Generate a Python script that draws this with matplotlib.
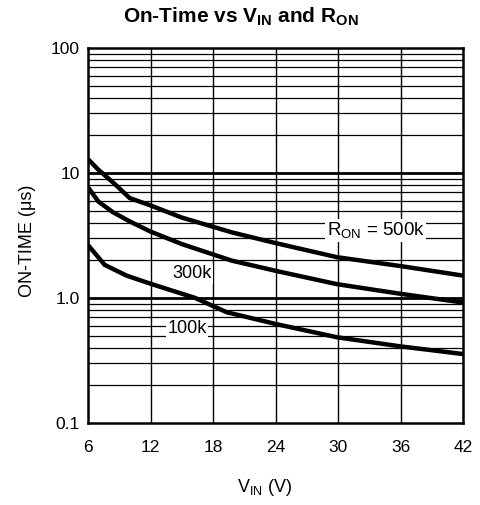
import matplotlib.pyplot as plt
import numpy as np

plt.rcParams["font.family"] = ["Liberation Sans", "DejaVu Sans"]

# data
vin_500k = [6, 7, 8.4, 10, 12, 15, 19.8, 24, 29.9, 36, 42]
ton_500k = [12.9, 10.6, 8.4, 6.3, 5.5, 4.4, 3.35, 2.75, 2.12, 1.8, 1.51]

vin_300k = [6, 7, 8.4, 10, 12, 15, 19.8, 24, 29.9, 36, 42]
ton_300k = [7.68, 5.9, 4.85, 4.1, 3.4, 2.7, 1.99, 1.65, 1.29, 1.08, 0.92]

vin_100k = [6, 7.6, 9.7, 12, 16.3, 19.3, 24, 29.9, 36, 42]
ton_100k = [2.65, 1.84, 1.51, 1.3, 1.0, 0.77, 0.62, 0.485, 0.41, 0.356]

x_ticks = [6, 12, 18, 24, 30, 36, 42]
y_ticks = [0.1, 1, 10, 100]
y_tick_labels = ["0.1", "1.0", "10", "100"]


def main():

    fig = plt.figure(figsize=(4.81, 5.05), dpi=100)

    ax = fig.add_axes([0.183, 0.1624, 0.7796, 0.7426])

    ax.set_yscale("log")
    ax.set_xlim(6, 42)
    ax.set_ylim(0.1, 100)

    # grid: minor horizontal, major horizontal, vertical
    for decade in [0.1, 1, 10]:
        for m in range(2, 10):
            ax.axhline(decade * m, color="black", lw=0.9, zorder=1)
    for y in [1, 10]:
        ax.axhline(y, color="black", lw=2.0, zorder=1)
    for x in x_ticks[1:-1]:
        ax.axvline(x, color="black", lw=1.0, zorder=1)

    for vin, ton in [(vin_500k, ton_500k), (vin_300k, ton_300k), (vin_100k, ton_100k)]:
        ax.plot(vin, ton, color="black", lw=3.2, solid_capstyle="butt", zorder=4)

    box = dict(facecolor="white", edgecolor="none", pad=1.0)
    ax.text(28.9, 3.44, "R$_{\\mathregular{ON}}$ = 500k", fontsize=13.5,
            va="center", ha="left", bbox=box, zorder=3)
    ax.text(14.1, 1.56, "300k", fontsize=13,
            va="center", ha="left", bbox=box, zorder=3)
    ax.text(13.6, 0.565, "100k", fontsize=13,
            va="center", ha="left", bbox=box, zorder=3)

    ax.set_xticks(x_ticks)
    ax.set_xticklabels([str(x) for x in x_ticks])
    ax.set_yticks(y_ticks)
    ax.set_yticklabels(y_tick_labels)
    ax.yaxis.set_minor_locator(plt.NullLocator())
    ax.tick_params(length=0, labelsize=12.5)
    ax.tick_params(axis="x", pad=12)
    ax.tick_params(axis="y", pad=6)

    for spine in ax.spines.values():
        spine.set_linewidth(1.8)
        spine.set_zorder(5)

    ax.set_xlabel("V$_{\\mathregular{IN}}$ (V)", fontsize=13)
    ax.xaxis.set_label_coords(0.472, -0.145)
    ax.set_ylabel("ON-TIME (\u03bcs)", fontsize=13)
    ax.yaxis.set_label_coords(-0.14, 0.485)

    fig.suptitle("On-Time vs V$_{\\mathregular{IN}}$ and R$_{\\mathregular{ON}}$",
                 fontsize=15, fontweight="bold", x=0.5, y=0.99)

    fig.savefig("out.png", dpi=100)


if __name__ == "__main__":

    main()
